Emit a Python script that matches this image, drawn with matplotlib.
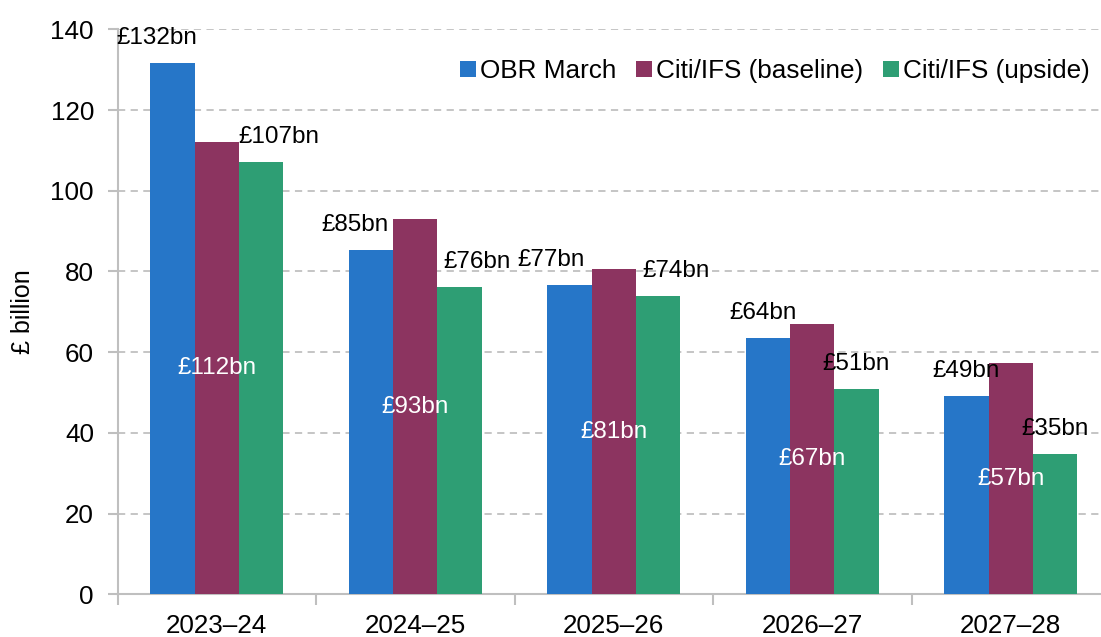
import matplotlib
matplotlib.use("Agg")
import matplotlib.pyplot as plt
import numpy as np

plt.rcParams['font.family'] = ['Liberation Sans', 'DejaVu Sans']

categories = ["2023\u201324", "2024\u201325", "2025\u201326", "2026\u201327", "2027\u201328"]
series_names = ["OBR March", "Citi/IFS (baseline)", "Citi/IFS (upside)"]
obr = [131.7, 85.3, 76.6, 63.6, 49.0]
baseline = [112.1, 93.0, 80.6, 67.0, 57.3]
upside = [107.1, 76.1, 73.9, 50.8, 34.8]

colors = ["#2676C8", "#8C3460", "#2E9E74"]
# label x offsets (pixels) for labels above bars
obr_dx = [-16, -16, -18, -5, 0]
up_dx = [18, 18, 18, 0, 0]

W, H = 1101, 637
fig = plt.figure(figsize=(W/100, H/100), dpi=100)
ax = fig.add_axes([117.5/W, 1-594.2/H, (1110-117.5)/W, (594.2-29.3)/H])

x = np.arange(len(categories))
bw = 0.223
b1 = ax.bar(x - bw, obr, bw, color=colors[0], label=series_names[0], zorder=3)
b2 = ax.bar(x, baseline, bw, color=colors[1], label=series_names[1], zorder=3)
b3 = ax.bar(x + bw, upside, bw, color=colors[2], label=series_names[2], zorder=3)

fs = 17.5
for i, v in enumerate(obr):
    ax.annotate(f"£{v:.0f}bn", (x[i]-bw, v), xytext=(obr_dx[i], 25),
                textcoords='offset pixels', ha='center', va='center', fontsize=fs, zorder=5)
for i, v in enumerate(upside):
    ax.annotate(f"£{v:.0f}bn", (x[i]+bw, v), xytext=(up_dx[i], 25),
                textcoords='offset pixels', ha='center', va='center', fontsize=fs, zorder=5)
for i, v in enumerate(baseline):
    ax.text(x[i], v/2, f"£{v:.0f}bn", ha='center', va='center', fontsize=fs,
            color='white', zorder=5)

ax.set_xlim(-0.5, len(categories)-0.5)
ax.set_ylim(0, 140)
ax.set_yticks(np.arange(0, 141, 20))
ax.yaxis.grid(True, color='#c0c0c0', linestyle=(0, (4, 3)), linewidth=1.3, zorder=0)
ax.set_axisbelow(True)

ax.set_xticks(np.arange(-0.5, len(categories), 1.0))
ax.set_xticklabels([])
ax.set_xticks(x, minor=True)
ax.set_xticklabels(categories, minor=True)
ax.tick_params(axis='x', which='major', length=8, color='#bfbfbf', width=1.5)
ax.tick_params(axis='x', which='minor', length=0, pad=14, labelsize=18.7)
ax.tick_params(axis='y', length=7, color='#bfbfbf', width=1.5, labelsize=18.7, pad=10)

for s in ['top', 'right']:
    ax.spines[s].set_visible(False)
for s in ['left', 'bottom']:
    ax.spines[s].set_color('#bfbfbf')
    ax.spines[s].set_linewidth(1.5)

ax.set_ylabel("£ billion", fontsize=18, labelpad=11)

fig.legend(handles=[b1, b2, b3], labels=series_names, loc='center left',
           bbox_to_anchor=(460/W, 1-71/H), ncol=3, frameon=False, fontsize=18.8,
           handlelength=0.6, handleheight=0.6, handletextpad=0.17, columnspacing=0.75,
           borderpad=0, borderaxespad=0)

fig.savefig("out.png", dpi=100)
